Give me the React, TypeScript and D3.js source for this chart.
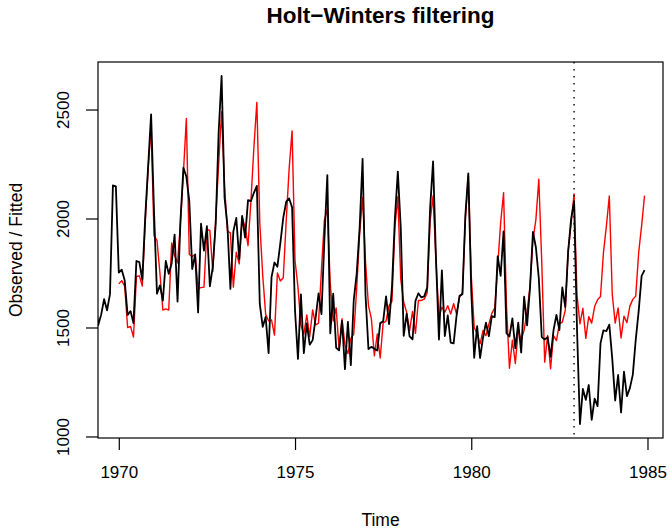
import React, { useRef, useEffect } from 'react';
import * as d3 from 'd3';

// monthly observations, Jan 1969 .. Dec 1984
const observedStart = 1969;
const observed = [
  1687, 1508, 1507, 1385, 1632, 1511, 1559, 1630, 1579, 1653, 2152, 2148,
  1752, 1765, 1717, 1558, 1575, 1520, 1805, 1800, 1719, 2008, 2242, 2478,
  2030, 1655, 1693, 1623, 1805, 1746, 1795, 1926, 1619, 1992, 2233, 2192,
  2080, 1768, 1835, 1569, 1976, 1853, 1965, 1689, 1778, 1976, 2397, 2654,
  2097, 1963, 1677, 1941, 2003, 1813, 2012, 1912, 2084, 2080, 2118, 2150,
  1608, 1503, 1548, 1382, 1731, 1798, 1779, 1887, 2004, 2077, 2092, 2051,
  1577, 1356, 1652, 1382, 1519, 1421, 1442, 1543, 1656, 1561, 1905, 2199,
  1473, 1655, 1407, 1395, 1530, 1309, 1526, 1327, 1627, 1748, 1958, 2274,
  1648, 1401, 1411, 1403, 1394, 1520, 1528, 1643, 1515, 1685, 2000, 2215,
  1956, 1462, 1563, 1459, 1446, 1622, 1657, 1638, 1643, 1683, 2050, 2262,
  1813, 1445, 1762, 1461, 1556, 1431, 1427, 1554, 1645, 1653, 2016, 2207,
  1665, 1361, 1506, 1360, 1453, 1522, 1460, 1552, 1548, 1827, 1737, 1941,
  1474, 1458, 1542, 1404, 1522, 1385, 1641, 1510, 1681, 1938, 1868, 1726,
  1456, 1445, 1456, 1365, 1487, 1558, 1488, 1684, 1594, 1850, 1998, 2079,
  1494, 1057, 1218, 1168, 1236, 1076, 1174, 1139, 1427, 1487, 1483, 1513,
  1357, 1165, 1282, 1110, 1297, 1185, 1222, 1284, 1444, 1575, 1737, 1763,
];

// fitted values Jan 1970 .. Dec 1982, then predicted Jan 1983 .. Dec 1984
const fittedStart = 1970;
const fitted = [
  1700, 1715, 1690, 1500, 1505, 1456, 1734, 1737, 1690, 1980, 2230, 2420,
  1920, 1900, 1750, 1580, 1585, 1580, 1888, 1830, 1796, 1980, 2210, 2459,
  1835, 1826, 1834, 1680, 1683, 1685, 1950, 1945, 1757, 2000, 2250, 2490,
  2150, 1942, 1934, 1685, 1845, 1792, 2006, 1960, 1876, 2083, 2327, 2533,
  1980, 1740, 1560, 1530, 1535, 1465, 1750, 1713, 1728, 1990, 2230, 2402,
  1807, 1685, 1510, 1470, 1558, 1458, 1581, 1512, 1520, 1765, 1995, 2041,
  1700, 1530, 1590, 1400, 1540, 1420, 1380, 1450, 1470, 1680, 1930, 2097,
  1800, 1600, 1540, 1370, 1470, 1360, 1520, 1530, 1600, 1620, 1960, 2100,
  1720, 1616, 1570, 1486, 1573, 1473, 1624, 1624, 1630, 1660, 1990, 2103,
  1800, 1547, 1593, 1570, 1600, 1562, 1609, 1562, 1639, 1660, 2000, 2200,
  1740, 1500, 1471, 1425, 1486, 1463, 1515, 1565, 1590, 1780, 1980, 2118,
  1600, 1313, 1442, 1335, 1488, 1442, 1488, 1573, 1688, 1900, 1995, 2180,
  1800, 1341, 1463, 1311, 1463, 1440, 1517, 1525, 1578, 1853, 1976, 2113,
  1650, 1517, 1588, 1450, 1550, 1520, 1596, 1627, 1642, 1842, 1965, 2103,
  1653, 1520, 1590, 1452, 1552, 1522, 1598, 1629, 1644, 1844, 1967, 2105,
];

const separatorAt = 1982 + 11 / 12;
const xTicks = [1970, 1975, 1980, 1985];
const yTicks = [1000, 1500, 2000, 2500];

const width = 670;
const height = 531;
const margin = { top: 62, right: 7, bottom: 93, left: 98 };
const font = '"Liberation Sans", Arial, Helvetica, sans-serif';

const HoltWintersPlot: React.FC = () => {
  const svgRef = useRef<SVGSVGElement | null>(null);

  useEffect(() => {
    const svg = d3.select(svgRef.current);
    svg.selectAll('*').remove(); // start clean

    const left = margin.left;
    const right = width - margin.right;
    const top = margin.top;
    const bottom = height - margin.bottom;

    const x = d3.scaleLinear().domain([1969.41, 1985.44]).range([left, right]);
    const y = d3.scaleLinear().domain([993, 2718]).range([bottom, top]);

    svg.append('defs').append('clipPath').attr('id', 'plot-clip')
      .append('rect')
      .attr('x', left).attr('y', top)
      .attr('width', right - left).attr('height', bottom - top);

    const line = (start: number) =>
      d3.line<number>()
        .x((_, i) => x(start + i / 12))
        .y((d) => y(d));

    const plot = svg.append('g').attr('clip-path', 'url(#plot-clip)');

    plot.append('path')
      .datum(fitted)
      .attr('d', line(fittedStart))
      .attr('fill', 'none')
      .attr('stroke', '#ff0000')
      .attr('stroke-width', 1.4)
      .attr('stroke-linejoin', 'round');

    plot.append('line')
      .attr('x1', x(separatorAt)).attr('x2', x(separatorAt))
      .attr('y1', top).attr('y2', bottom)
      .attr('stroke', '#000')
      .attr('stroke-width', 1.4)
      .attr('stroke-dasharray', '1.4,5.6');

    plot.append('path')
      .datum(observed)
      .attr('d', line(observedStart))
      .attr('fill', 'none')
      .attr('stroke', '#000')
      .attr('stroke-width', 1.8)
      .attr('stroke-linejoin', 'round');

    // box
    svg.append('rect')
      .attr('x', left).attr('y', top)
      .attr('width', right - left).attr('height', bottom - top)
      .attr('fill', 'none')
      .attr('stroke', '#000')
      .attr('stroke-width', 1.2);

    // x axis
    const xAxis = svg.append('g')
      .attr('transform', `translate(0, ${bottom})`)
      .call(d3.axisBottom(x).tickValues(xTicks).tickSize(12).tickFormat(d3.format('d')));
    xAxis.select('.domain').remove();
    xAxis.selectAll('line').attr('stroke', '#000').attr('stroke-width', 1.2);
    xAxis.selectAll('text')
      .attr('y', 40).attr('dy', null)
      .attr('fill', '#000')
      .style('font-family', font).style('font-size', '17px');

    // y axis, labels parallel to the axis
    const yAxis = svg.append('g')
      .attr('transform', `translate(${left}, 0)`)
      .call(d3.axisLeft(y).tickValues(yTicks).tickSize(12).tickFormat(d3.format('d')));
    yAxis.select('.domain').remove();
    yAxis.selectAll('line').attr('stroke', '#000').attr('stroke-width', 1.2);
    yAxis.selectAll('text')
      .attr('x', null).attr('dy', null)
      .attr('text-anchor', 'middle')
      .attr('transform', 'translate(-29, 0) rotate(-90)')
      .attr('fill', '#000')
      .style('font-family', font).style('font-size', '17px');

    svg.append('text')
      .attr('x', (left + right) / 2).attr('y', 23)
      .attr('text-anchor', 'middle')
      .style('font-family', font).style('font-size', '22.5px').style('font-weight', 'bold')
      .text('Holt\u2212Winters filtering');

    svg.append('text')
      .attr('x', (left + right) / 2).attr('y', 526)
      .attr('text-anchor', 'middle')
      .style('font-family', font).style('font-size', '17.5px')
      .text('Time');

    svg.append('text')
      .attr('transform', `translate(22, ${(top + bottom) / 2}) rotate(-90)`)
      .attr('text-anchor', 'middle')
      .style('font-family', font).style('font-size', '17.5px')
      .text('Observed / Fitted');
  }, []);

  return (
    <svg
      ref={svgRef}
      width={width}
      height={height}
      style={{ position: 'absolute', left: 0, top: 0, background: '#fff' }}
    />
  );
};

export default function App() {
  return <HoltWintersPlot />;
}
